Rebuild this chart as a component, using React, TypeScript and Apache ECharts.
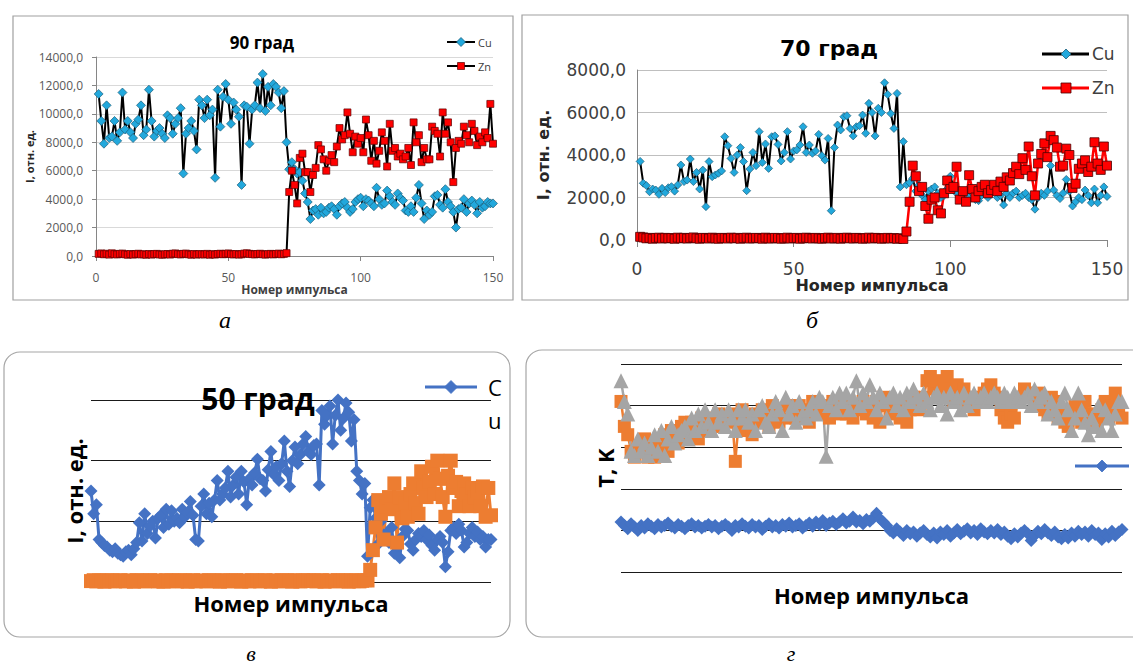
import React, { useEffect, useRef } from "react";
import * as echarts from "echarts";

// Pulse numbers (x categories) 1..150
const pulse: number[] = Array.from({ length: 150 }, (_, i) => i + 1);
const xTicks = [0, 50, 100, 150];

// Panel а — 90 град
const cuA = [
  11400, 9500, 7900, 10600, 8300, 8400, 9500, 8100, 8700, 11500,
  8900, 9500, 8700, 8300, 9300, 9600, 10600, 8500, 8900, 11700,
  9500, 8400, 8800, 9000, 8600, 8300, 9900, 9700, 8600, 9300,
  9700, 10400, 5800, 8600, 9000, 9500, 8800, 7500, 11000, 10600,
  9700, 11000, 9900, 10300, 5500, 11700, 9100, 11200, 12100, 11000,
  9300, 10800, 10300, 9800, 5000, 10600, 10500, 7900, 10300, 10600,
  12200, 10400, 12800, 10200, 11900, 10600, 12100, 11900, 11500, 10400,
  11600, 8000, 6100, 6600, 6100, 5800, 5900, 5300, 4400, 3800,
  2600, 3200, 3300, 2900, 3400, 3000, 3100, 3400, 3500, 3300,
  2900, 3500, 3700, 3800, 3400, 3100, 3300, 3800, 4000, 4100,
  3500, 4000, 3900, 3700, 3500, 4800, 4000, 3600, 3700, 4600,
  4200, 3800, 3600, 4400, 4100, 3900, 3200, 3100, 3500, 3100,
  4100, 5000, 3700, 2600, 3200, 2900, 3100, 4200, 4300, 3600,
  3400, 4700, 3800, 3500, 3100, 2000, 3300, 3400, 4000, 3100,
  3700, 3900, 3600, 3000, 3800, 3400, 3500, 3800, 3700, 3700,
];
const znA = [
  150, 180, 120, 160, 100, 190, 130, 110, 150, 170,
  120, 90, 140, 100, 130, 160, 110, 120, 90, 140,
  100, 130, 150, 110, 90, 120, 140, 100, 160, 180,
  130, 110, 150, 170, 120, 90, 140, 100, 130, 120,
  110, 150, 90, 130, 100, 140, 160, 120, 150, 180,
  130, 110, 140, 100, 120, 170, 190, 150, 130, 110,
  140, 160, 120, 100, 130, 150, 110, 140, 170, 120,
  150, 200, 4500, 6000, 5000, 3700, 6900, 7200, 5900, 5900,
  4500, 5700, 6200, 7800, 7500, 6800, 6000, 6700, 7100, 6600,
  7700, 9000, 8200, 8500, 10100, 8600, 7300, 8400, 7900, 8300,
  7300, 9600, 8500, 6700, 8100, 6500, 7400, 8700, 8100, 6300,
  9300, 7400, 7600, 7000, 7200, 6800, 7000, 7600, 6400, 9400,
  8000, 8500, 6600, 7600, 6800, 6800, 9100, 8800, 8600, 7000,
  10100, 8600, 9400, 8000, 5200, 7600, 8100, 7900, 9100, 8500,
  8000, 9300, 8800, 7800, 8400, 8000, 8700, 8300, 10700, 7900,
];

// Panel б — 70 град
const cuB = [
  3700, 2670, 2560, 2270, 2400, 2350, 2150, 2430, 2230, 2460,
  2510, 2300, 2590, 3530, 2750, 2820, 3810, 2750, 3180, 2400,
  3290, 1570, 3690, 2980, 3060, 3140, 3250, 4860, 4440, 3840,
  3180, 4000, 4350, 3690, 2320, 3340, 4120, 3500, 5100, 3650,
  4520, 3370, 4860, 4900, 4500, 3720, 4120, 5100, 3810, 4190,
  4240, 4470, 5330, 4120, 4470, 4080, 4190, 4970, 3970, 3760,
  4780, 1380, 4350, 5410, 5180, 5800, 5850, 5250, 4900, 5330,
  5380, 5880, 5020, 6430, 6000, 4900, 6200, 6000, 7400, 6850,
  5950, 5250, 6900, 2500, 4630, 2600, 2700, 2900, 2300, 2600,
  2100, 1900, 2300, 2400, 2500, 2200, 2000, 2100, 2400, 3000,
  2500, 2200, 2000, 2300, 1800, 2100, 2200, 1900, 1850, 2100,
  2300, 2000, 2200, 2400, 2000, 2100, 1650, 2200, 2000, 2200,
  2300, 2000, 2100, 2200, 2000, 1900, 1450, 2000, 2200, 2100,
  2300, 3500, 2350, 2100, 1950, 2200, 2850, 2300, 1600, 1800,
  2000, 1900, 2350, 2100, 1750, 2400, 1750, 2100, 2500, 2050,
];
const znB = [
  150, 120, 80, 100, 60, 90, 110, 70, 100, 80,
  90, 60, 110, 80, 100, 70, 90, 120, 80, 60,
  100, 90, 70, 110, 80, 60, 100, 90, 70, 110,
  80, 100, 60, 90, 110, 70, 80, 100, 90, 60,
  110, 80, 70, 100, 90, 60, 80, 110, 70, 90,
  100, 60, 80, 110, 90, 70, 100, 80, 60, 90,
  110, 70, 80, 100, 60, 90, 110, 80, 70, 100,
  90, 60, 80, 110, 70, 100, 90, 60, 80, 100,
  70, 90, 60, 80, 50, 400, 1800, 3500, 3000, 2300,
  2500, 1600, 1000, 1900, 2000, 1400, 1250, 2200, 2800, 2400,
  2500, 3450, 1900, 2300, 1800, 3050, 2400, 2000, 2300, 2500,
  2600, 2200, 2350, 2600, 2300, 2750, 2500, 2950, 2800, 3150,
  3450, 3100, 3850, 3300, 4400, 3000, 2100, 3600, 4050, 4550,
  3900, 4900, 4700, 4350, 3450, 3500, 4300, 4000, 2450, 2650,
  3350, 3600, 3750, 3200, 3450, 4600, 3600, 3300, 4400, 3500,
];

// Panel в — 50 град
const cuC = [
  3000, 2250, 2550, 1400, 1300, 1200, 1150, 1050, 1000, 1100,
  950, 900, 850, 1000, 1050, 900, 1100, 1300, 1950, 1350,
  2250, 1600, 1850, 2000, 1450, 2100, 2200, 1800, 2400, 1900,
  2350, 2000, 2100, 1950, 2400, 2150, 2300, 2650, 2200, 1400,
  1350, 2500, 2900, 2250, 2600, 2150, 2700, 3350, 2700, 2900,
  3100, 3650, 2800, 3200, 3450, 2900, 3650, 3300, 2550, 3400,
  3200, 3600, 4050, 3400, 3350, 3000, 3700, 4300, 3550, 3800,
  3350, 3900, 4650, 3650, 3150, 4000, 4450, 3900, 4200, 4550,
  4800, 4300, 4200, 4500, 4550, 3200, 5650, 5200, 5500, 5800,
  4550, 5500, 6000, 5000, 5400, 5900, 5600, 4650, 5350, 3650,
  3350, 2900, 3250, 850, 2450, 2700, 2100, 1250, 2000, 1550,
  1600, 1300, 1800, 950, 1200, 800, 1500, 1750, 1700, 1250,
  1050, 1400, 1600, 1500, 1700, 1400, 1550, 1200, 1050, 1400,
  1500, 1300, 500, 1000, 1700, 1800, 1600, 1900, 1700, 1150,
  1300, 1600, 1800, 1500, 1650, 1400, 1500, 1150, 1400, 1400,
];
const znC = [
  30, 60, 20, 50, 40, 10, 60, 30, 50, 20,
  40, 60, 30, 20, 50, 40, 10, 60, 30, 50,
  20, 40, 60, 30, 50, 20, 40, 10, 60, 30,
  50, 40, 20, 60, 30, 50, 10, 40, 60, 20,
  30, 50, 40, 20, 60, 30, 50, 40, 10, 60,
  30, 20, 50, 40, 60, 30, 10, 50, 40, 20,
  60, 30, 50, 20, 40, 60, 30, 10, 50, 40,
  20, 60, 30, 50, 40, 10, 60, 30, 20, 50,
  40, 60, 30, 50, 20, 40, 60, 10, 30, 50,
  40, 20, 60, 30, 50, 40, 10, 60, 30, 50,
  20, 40, 60, 50, 400, 1050, 1800, 2700, 2250, 1400,
  2500, 2800, 2400, 3250, 1300, 2800, 2100, 2600, 2150, 2900,
  3250, 2600, 2250, 3650, 3100, 2800, 3300, 3800, 2900, 4000,
  3400, 2800, 2150, 3500, 4000, 3100, 3300, 2500, 3000, 3250,
  2900, 2500, 3100, 2800, 3000, 2500, 3150, 2150, 3100, 2200,
];

// Panel г — температура
const blueD = [
  600, 560, 520, 580, 540, 500, 560, 530, 580, 550,
  520, 570, 540, 560, 590, 550, 530, 570, 550, 520,
  560, 580, 540, 560, 530, 550, 570, 540, 560, 520,
  550, 570, 540, 500, 560, 540, 580, 550, 530, 570,
  540, 560, 510, 550, 580, 540, 560, 530, 570, 550,
  590, 540, 560, 580, 530, 560, 590, 550, 600, 570,
  620, 560, 590, 610, 570, 600, 640, 590, 610, 660,
  600, 620, 580, 630, 610, 650, 705, 640, 600, 560,
  500, 470, 520, 480, 440, 500, 460, 480, 430, 470,
  500, 450, 420, 470, 410, 480, 450, 500, 430, 470,
  510, 460, 490, 520, 470, 500, 450, 520, 480, 460,
  500, 470, 510, 450, 480, 430, 400, 460, 420, 470,
  500, 460, 380, 440, 490, 460, 510, 470, 440, 480,
  420, 400, 450, 410, 470, 430, 490, 450, 480, 430,
  500, 450, 470, 390, 460, 420, 490, 440, 480, 510,
];
const orangeD = [
  2050, 1750, 1650, 1450, 1380, 1500, 1450, 1600, 1380, 1450,
  1380, 1550, 1500, 1650, 1450, 1700, 1600, 1550, 1750, 1800,
  1650, 1800, 1700, 1600, 1850, 1700, 1850, 1750, 1800, 1900,
  1750, 1850, 1800, 1900, 1330, 1800, 1950, 1700, 1850, 1650,
  1900, 1800, 1950, 1850, 1750, 2000, 1900, 1800, 1950, 1850,
  2000, 1900, 1850, 2000, 1900, 1950, 1800, 2050, 1950, 1900,
  2000, 1950, 1850, 2050, 1950, 1900, 2000, 1900, 1950, 1850,
  1950, 2000, 2050, 1900, 2000, 1850, 2050, 1800, 2100, 2000,
  1900, 2050, 1950, 1850, 2050, 1800, 1950, 2100, 2000, 1950,
  2100, 2300, 2350, 2200, 2300, 2150, 2250, 2350, 2200, 2050,
  2250, 2100, 2200, 2000, 2050, 1950, 2100, 2050, 2150, 2200,
  2250, 2150, 2100, 1950, 1850, 1800, 1900, 1850, 2050, 2100,
  2200, 2150, 2100, 2050, 2150, 2000, 1950, 1900, 2100, 2050,
  1850, 1900, 1800, 1750, 1850, 2000, 1900, 1800, 2050, 1850,
  1900, 1800, 1850, 1950, 2050, 1850, 2000, 2150, 1950, 1850,
];
const grayD = [
  2300, 2050, 1900, 1450, 1400, 1600, 1450, 1550, 1400, 1500,
  1650, 1450, 1700, 1400, 1600, 1750, 1550, 1650, 1700, 1750,
  1600, 1850, 1700, 1900, 1750, 1950, 1800, 1700, 1950, 1800,
  1900, 1750, 1950, 1850, 1700, 1950, 1850, 1950, 1800, 1900,
  1700, 1950, 2000, 1800, 1750, 1900, 2050, 1950, 1700, 2100,
  1900, 2000, 1800, 2050, 1900, 1850, 1950, 2050, 1900, 2100,
  2050, 1390, 2000, 2100, 1950, 2150, 2050, 2150, 1950, 2100,
  2300, 2000, 2150, 2050, 2250, 2100, 1950, 2150, 2050, 1850,
  2100, 2150, 2000, 2100, 1950, 2150, 2050, 2200, 2100, 2000,
  2150, 2050, 1950, 2100, 2150, 2000, 2100, 1900, 2150, 2050,
  2100, 1950, 2150, 2000, 2100, 2150, 2050, 2100, 2150, 2050,
  2100, 2150, 2100, 2050, 2150, 2100, 2050, 2150, 2100, 2050,
  2100, 2150, 2000, 2200, 2050, 2100, 2150, 1900, 2050, 1950,
  1850, 2050, 2150, 1950, 1700, 1850, 2150, 1950, 1800, 1650,
  1850, 1750, 2000, 1700, 1950, 1850, 1700, 1900, 2050, 2050,
];

const pairs = (vals: number[]) => vals.map((v, i) => [pulse[i], v]);
const comma1 = (v: number) => v.toFixed(1).replace(".", ",");

const OS = "Open Sans";
const DV = "DejaVu Sans";
const CYAN = "#22a8dc";
const BLUE = "#4472c4";
const ORANGE = "#ed7d31";
const GRAY = "#a5a5a5";

export default function App() {
  const ref = useRef<HTMLDivElement>(null);
  useEffect(() => {
    if (!ref.current) return;
    const chart = echarts.init(ref.current, undefined, { renderer: "svg" });

    const diamond = (cx: number, cy: number, r: number, fill: string, stroke?: string) => ({
      type: "polygon",
      shape: { points: [[cx, cy - r], [cx + r, cy], [cx, cy + r], [cx - r, cy]] },
      style: { fill, stroke: stroke || fill, lineWidth: 0.8 },
      z: 20,
    });
    const hline = (x1: number, x2: number, y: number, color: string, w: number) => ({
      type: "line",
      shape: { x1, y1: y, x2, y2: y },
      style: { stroke: color, lineWidth: w },
      z: 19,
    });
    const txt = (x: number, y: number, text: string, font: string, align = "center", fill = "#000") => ({
      type: "text",
      x,
      y,
      style: { text, font, fill, align, verticalAlign: "middle" },
      z: 20,
    });

    const option: any = {
      animation: false,
      backgroundColor: "#fff",
      textStyle: { fontFamily: OS },
      grid: [
        { left: 96, top: 57, width: 397, height: 199 },
        { left: 637, top: 70, width: 470, height: 170 },
        { left: 91, top: 400, width: 400, height: 182 },
        { left: 621, top: 364, width: 501, height: 208 },
      ],
      xAxis: [
        {
          gridIndex: 0, type: "value", min: 0, max: 150, interval: 50,
          axisLine: { show: true, lineStyle: { color: "#868686" } },
          axisTick: { show: true, length: 5, lineStyle: { color: "#868686" } },
          axisLabel: { margin: 15, fontSize: 12, color: "#595959", fontFamily: OS,
            customValues: xTicks },
          splitLine: { show: false },
          name: "Номер импульса", nameLocation: "middle", nameGap: 27,
          nameTextStyle: { fontWeight: "bold", fontSize: 12, color: "#404040", fontFamily: OS },
        },
        {
          gridIndex: 1, type: "value", min: 0, max: 150, interval: 50,
          axisLine: { show: true, lineStyle: { color: "#868686" } },
          axisTick: { show: true, length: 7, lineStyle: { color: "#868686" } },
          axisLabel: { margin: 20, fontSize: 17, color: "#404040", fontFamily: DV },
          splitLine: { show: false },
          name: "Номер импульса", nameLocation: "middle", nameGap: 37,
          nameTextStyle: { fontWeight: "bold", fontSize: 16, color: "#262626", fontFamily: DV },
        },
        {
          gridIndex: 2, type: "value", min: 1, max: 150,
          axisLine: { show: false }, axisTick: { show: false }, axisLabel: { show: false },
          splitLine: { show: false },
          name: "Номер импульса", nameLocation: "middle", nameGap: 10,
          nameTextStyle: { fontWeight: "bold", fontSize: 22, color: "#000", fontFamily: OS },
        },
        {
          gridIndex: 3, type: "value", min: 1, max: 150,
          axisLine: { show: false }, axisTick: { show: false }, axisLabel: { show: false },
          splitLine: { show: false },
          name: "Номер импульса", nameLocation: "middle", nameGap: 12,
          nameTextStyle: { fontWeight: "bold", fontSize: 22, color: "#000", fontFamily: OS },
        },
      ],
      yAxis: [
        {
          gridIndex: 0, type: "value", min: 0, max: 14000, interval: 2000,
          axisLine: { show: true, lineStyle: { color: "#868686" } },
          axisTick: { show: true, length: 4, lineStyle: { color: "#868686" } },
          axisLabel: { margin: 13, fontSize: 12, color: "#595959", fontFamily: OS, formatter: comma1 },
          splitLine: { show: true, lineStyle: { color: "#d9d9d9", width: 1 } },
          name: "I, отн. ед.", nameLocation: "middle", nameGap: 61, nameRotate: 90,
          nameTextStyle: { fontWeight: "bold", fontSize: 11, color: "#262626", fontFamily: OS },
        },
        {
          gridIndex: 1, type: "value", min: 0, max: 8000, interval: 2000,
          axisLine: { show: true, lineStyle: { color: "#868686" } },
          axisTick: { show: false },
          axisLabel: { margin: 11, fontSize: 17, color: "#404040", fontFamily: DV, formatter: comma1 },
          splitLine: { show: true, lineStyle: { color: "#bfbfbf", width: 1 } },
          name: "I, отн. ед.", nameLocation: "middle", nameGap: 86, nameRotate: 90,
          nameTextStyle: { fontWeight: "bold", fontSize: 16, color: "#262626", fontFamily: DV },
        },
        {
          gridIndex: 2, type: "value", min: 0, max: 6000, interval: 2000,
          axisLine: { show: false }, axisTick: { show: false }, axisLabel: { show: false },
          splitLine: { show: true, lineStyle: { color: "#1a1a1a", width: 1 } },
          name: "I, отн. ед.", nameLocation: "middle", nameGap: 6, nameRotate: 90,
          nameTextStyle: { fontWeight: "bold", fontSize: 22, color: "#000", fontFamily: OS },
        },
        {
          gridIndex: 3, type: "value", min: 0, max: 2500, interval: 500,
          axisLine: { show: false }, axisTick: { show: false }, axisLabel: { show: false },
          splitLine: { show: true, lineStyle: { color: "#1a1a1a", width: 1 } },
          name: "T, K", nameLocation: "middle", nameGap: 5, nameRotate: 90,
          nameTextStyle: { fontWeight: "bold", fontSize: 22, color: "#000", fontFamily: OS },
        },
      ],
      series: [
        {
          name: "Cu", type: "line", xAxisIndex: 0, yAxisIndex: 0, data: pairs(cuA),
          symbol: "diamond", symbolSize: 9, showAllSymbol: true,
          lineStyle: { color: "#000", width: 2 },
          itemStyle: { color: CYAN, borderColor: "#1d5e7a", borderWidth: 0.7 },
        },
        {
          name: "Zn", type: "line", xAxisIndex: 0, yAxisIndex: 0, data: pairs(znA),
          symbol: "rect", symbolSize: 7, showAllSymbol: true,
          lineStyle: { color: "#000", width: 2 },
          itemStyle: { color: "#ff0000", borderColor: "#5c0000", borderWidth: 0.7 },
        },
        {
          name: "Cu", type: "line", xAxisIndex: 1, yAxisIndex: 1, data: pairs(cuB),
          symbol: "diamond", symbolSize: 8, showAllSymbol: true,
          lineStyle: { color: "#000", width: 2 },
          itemStyle: { color: CYAN, borderColor: "#1d5e7a", borderWidth: 0.7 },
        },
        {
          name: "Zn", type: "line", xAxisIndex: 1, yAxisIndex: 1, data: pairs(znB),
          symbol: "rect", symbolSize: 9, showAllSymbol: true,
          lineStyle: { color: "#ff0000", width: 2.5 },
          itemStyle: { color: "#ff0000", borderColor: "#4d0000", borderWidth: 0.8 },
        },
        {
          name: "Cu", type: "line", xAxisIndex: 2, yAxisIndex: 2, data: pairs(cuC), clip: false,
          symbol: "diamond", symbolSize: 13, showAllSymbol: true,
          lineStyle: { color: BLUE, width: 3 },
          itemStyle: { color: BLUE },
        },
        {
          name: "Zn", type: "line", xAxisIndex: 2, yAxisIndex: 2, data: pairs(znC), clip: false,
          symbol: "rect", symbolSize: 14, showAllSymbol: true,
          lineStyle: { color: ORANGE, width: 3 },
          itemStyle: { color: ORANGE },
        },
        {
          name: "T1", type: "line", xAxisIndex: 3, yAxisIndex: 3, data: pairs(blueD), clip: false,
          symbol: "diamond", symbolSize: 13, showAllSymbol: true,
          lineStyle: { color: BLUE, width: 2.5 },
          itemStyle: { color: BLUE },
        },
        {
          name: "T2", type: "line", xAxisIndex: 3, yAxisIndex: 3, data: pairs(orangeD), clip: false,
          symbol: "rect", symbolSize: 13, showAllSymbol: true,
          lineStyle: { color: ORANGE, width: 2.5 },
          itemStyle: { color: ORANGE },
        },
        {
          name: "T3", type: "line", xAxisIndex: 3, yAxisIndex: 3, data: pairs(grayD), clip: false,
          symbol: "triangle", symbolSize: 15, showAllSymbol: true,
          lineStyle: { color: GRAY, width: 2.5 },
          itemStyle: { color: GRAY },
        },
      ],
      graphic: [
        // panel frames
        { type: "rect", shape: { x: 13, y: 16, width: 500, height: 284 }, style: { fill: "none", stroke: "#a0a0a0", lineWidth: 1.2 }, z: 1 },
        { type: "rect", shape: { x: 522, y: 15, width: 606, height: 285 }, style: { fill: "none", stroke: "#a0a0a0", lineWidth: 1.2 }, z: 1 },
        { type: "rect", shape: { x: 4, y: 352, width: 506, height: 285, r: 16 }, style: { fill: "none", stroke: "#a6a6a6", lineWidth: 1.2 }, z: 1 },
        { type: "rect", shape: { x: 526, y: 350, width: 640, height: 287, r: 16 }, style: { fill: "none", stroke: "#a6a6a6", lineWidth: 1.2 }, z: 1 },
        // titles
        txt(262, 42, "90 град", `bold 17px "${OS}"`),
        txt(829, 48, "70 град", `bold 22px "${DV}"`),
        txt(258, 398, "50 град", `bold 30px "${OS}"`),
        // legend а
        hline(447, 475, 42, "#000", 2),
        diamond(461, 42, 4.5, CYAN, "#1d5e7a"),
        txt(478, 42, "Cu", `11px "${OS}"`, "left", "#404040"),
        hline(447, 475, 66, "#000", 2),
        { type: "rect", shape: { x: 457.5, y: 62.5, width: 7, height: 7 }, style: { fill: "#ff0000", stroke: "#5c0000", lineWidth: 0.7 }, z: 20 },
        txt(478, 66, "Zn", `11px "${OS}"`, "left", "#404040"),
        // legend б
        hline(1042, 1089, 54, "#000", 3),
        diamond(1066, 54, 5, CYAN, "#1d5e7a"),
        txt(1092, 54, "Cu", `17px "${DV}"`, "left", "#404040"),
        hline(1042, 1089, 88, "#ff0000", 3),
        { type: "rect", shape: { x: 1061, y: 83, width: 10, height: 10 }, style: { fill: "#ff0000", stroke: "#4d0000", lineWidth: 0.8 }, z: 20 },
        txt(1092, 88, "Zn", `17px "${DV}"`, "left", "#404040"),
        // legend в
        hline(425, 477, 387, BLUE, 3),
        diamond(451, 387, 6.5, BLUE),
        txt(488, 387, "C", `22px "${OS}"`, "left", "#000"),
        txt(488, 420, "u", `22px "${OS}"`, "left", "#000"),
        // legend г
        hline(1075, 1129, 466, BLUE, 3),
        diamond(1102, 466, 6, BLUE),
        // captions
        txt(225, 320, "а", `italic 24px "Liberation Serif"`),
        txt(812, 320, "б", `italic 24px "Liberation Serif"`),
        txt(251, 653, "в", `italic 22px "Liberation Serif"`),
        txt(791, 653, "г", `italic 22px "Liberation Serif"`),
      ],
    };
    chart.setOption(option);
    return () => chart.dispose();
  }, []);
  return (
    <div
      ref={ref}
      style={{ position: "fixed", left: 0, top: 0, width: 1133, height: 666, background: "#fff" }}
    />
  );
}
